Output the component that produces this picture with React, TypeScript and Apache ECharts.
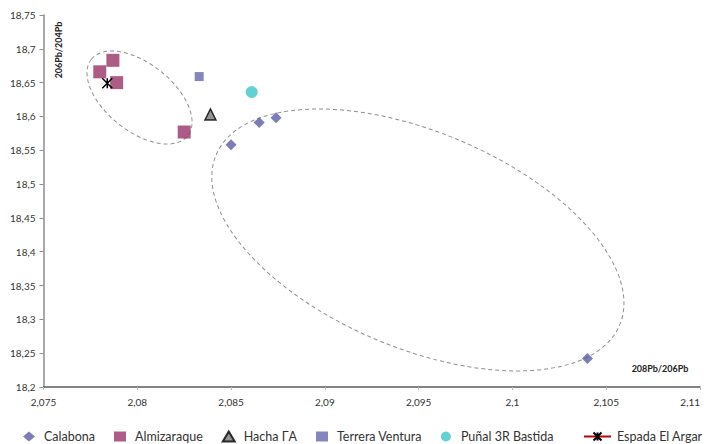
import React, { useEffect, useRef } from "react";
import * as echarts from "echarts";

// Isotope ratios: [208Pb/206Pb, 206Pb/204Pb]
const calabona: [number, number][] = [
  [2.085, 18.558],
  [2.0865, 18.591],
  [2.0874, 18.598],
  [2.104, 18.242],
];
const almizaraque: [number, number][] = [
  [2.078, 18.666],
  [2.0787, 18.683],
  [2.0789, 18.65],
  [2.0825, 18.577],
];
const hachaGA: [number, number][] = [[2.0839, 18.603]];
const terreraVentura: [number, number][] = [[2.0833, 18.659]];
const punalBastida: [number, number][] = [[2.0861, 18.636]];
const espadaArgar: [number, number][] = [[2.0784, 18.649]];

const seriesNames = [
  "Calabona",
  "Almizaraque",
  "Hacha ΓA",
  "Terrera Ventura",
  "Puñal 3R Bastida",
  "Espada El Argar",
];

// Grouping ellipses: centres in data units
const groupCentres: [number, number][] = [
  [2.08012, 18.628],
  [2.09496, 18.4174],
];

const X_MIN = 2.075;
const X_MAX = 2.11;
const X_STEP = 0.005;
const Y_MIN = 18.2;
const Y_MAX = 18.75;
const Y_STEP = 0.05;

const FONT = "Lato, 'Open Sans', sans-serif";
const starPath = "path://M0,0L10,10M10,0L0,10M5,0L5,10";

const decimalComma = (v: number, digits: number) =>
  parseFloat(v.toFixed(digits)).toString().replace(".", ",");

export default function App() {
  const ref = useRef<HTMLDivElement>(null);

  useEffect(() => {
    if (!ref.current) return;
    const chart = echarts.init(ref.current, null, { renderer: "svg" });

    const option: any = {
      animation: false,
      backgroundColor: "#ffffff",
      textStyle: { fontFamily: FONT },
      grid: {
        left: 43.5,
        right: 7,
        top: 15,
        bottom: 57,
        outerBoundsMode: "none",
        containLabel: false,
      },
      xAxis: {
        type: "value",
        min: X_MIN,
        max: X_MAX,
        interval: X_STEP,
        splitLine: { show: false },
        axisLine: { show: true, onZero: false, lineStyle: { color: "#595959", width: 1.5 } },
        axisTick: { show: true, length: 3, lineStyle: { color: "#bdbdbd" } },
        axisLabel: {
          margin: 10,
          fontSize: 10,
          color: "#333333",
          fontFamily: FONT,
          alignMaxLabel: "right",
          formatter: (v: number) => decimalComma(v, 3),
        },
      },
      yAxis: {
        type: "value",
        min: Y_MIN,
        max: Y_MAX,
        interval: Y_STEP,
        splitLine: { show: false },
        axisLine: { show: true, onZero: false, lineStyle: { color: "#8c8c8c", width: 1.5 } },
        axisTick: { show: true, length: 4, lineStyle: { color: "#8c8c8c" } },
        axisLabel: {
          margin: 8,
          fontSize: 10,
          color: "#333333",
          fontFamily: FONT,
          formatter: (v: number) => decimalComma(v, 2),
        },
      },
      legend: [
        {
          data: seriesNames.slice(0, 5),
          left: 18,
          top: 425,
          itemWidth: 12,
          itemHeight: 10,
          itemGap: 19,
          textStyle: { fontSize: 12.5, color: "#333333", fontFamily: FONT, padding: [0, 0, 0, 4] },
        },
        {
          data: [seriesNames[5]],
          left: 578,
          top: 425,
          itemWidth: 27,
          itemHeight: 10,
          textStyle: { fontSize: 12.5, color: "#333333", fontFamily: FONT, padding: [0, 0, 0, 1] },
        },
      ],
      series: [
        {
          name: seriesNames[0],
          type: "scatter",
          symbol: "diamond",
          symbolSize: 11,
          itemStyle: { color: "#5b5ca4" },
          data: calabona,
        },
        {
          name: seriesNames[1],
          type: "scatter",
          symbol: "rect",
          symbolSize: 13,
          itemStyle: { color: "#993366" },
          data: almizaraque,
        },
        {
          name: seriesNames[2],
          type: "scatter",
          symbol: "triangle",
          symbolSize: 11,
          itemStyle: { color: "#7a7a7a", borderColor: "#000000", borderWidth: 1.5 },
          data: hachaGA,
        },
        {
          name: seriesNames[3],
          type: "scatter",
          symbol: "rect",
          symbolSize: 9,
          itemStyle: { color: "#6668ad" },
          data: terreraVentura,
        },
        {
          name: seriesNames[4],
          type: "scatter",
          symbol: "circle",
          symbolSize: 12,
          itemStyle: { color: "#3cc5c8" },
          data: punalBastida,
        },
        {
          name: seriesNames[5],
          type: "line",
          symbol: starPath,
          symbolSize: 10,
          showSymbol: true,
          lineStyle: { color: "#c00000", width: 1.5 },
          itemStyle: { color: "#000000", borderColor: "#000000", borderWidth: 1.5 },
          data: espadaArgar,
        },
      ],
    };

    chart.setOption(option);

    const p1 = chart.convertToPixel({ gridIndex: 0 }, groupCentres[0]) as number[];
    const p2 = chart.convertToPixel({ gridIndex: 0 }, groupCentres[1]) as number[];
    const ellipseStyle = { fill: "none", stroke: "#8f8f8f", lineWidth: 1, lineDash: [4, 3] };

    chart.setOption({
      graphic: [
        {
          type: "ellipse",
          x: p1[0],
          y: p1[1],
          rotation: (-38.5 * Math.PI) / 180,
          shape: { cx: 0, cy: 0, rx: 61.5, ry: 33.7 },
          style: ellipseStyle,
          silent: true,
        },
        {
          type: "ellipse",
          x: p2[0],
          y: p2[1],
          rotation: (-22.9 * Math.PI) / 180,
          shape: { cx: 0, cy: 0, rx: 219, ry: 108 },
          style: ellipseStyle,
          silent: true,
        },
        {
          type: "text",
          x: 58,
          y: 50,
          rotation: Math.PI / 2,
          style: {
            text: "206Pb/204Pb",
            fontSize: 9,
            fontWeight: "bold",
            fontFamily: FONT,
            fill: "#222222",
            align: "center",
            verticalAlign: "middle",
          },
        },
        {
          type: "text",
          x: 660,
          y: 368,
          style: {
            text: "208Pb/206Pb",
            fontSize: 9,
            fontWeight: "bold",
            fontFamily: FONT,
            fill: "#222222",
            align: "center",
            verticalAlign: "middle",
          },
        },
      ],
    });

    return () => chart.dispose();
  }, []);

  return (
    <div
      ref={ref}
      style={{ position: "fixed", left: 0, top: 0, width: 707, height: 444 }}
    />
  );
}
